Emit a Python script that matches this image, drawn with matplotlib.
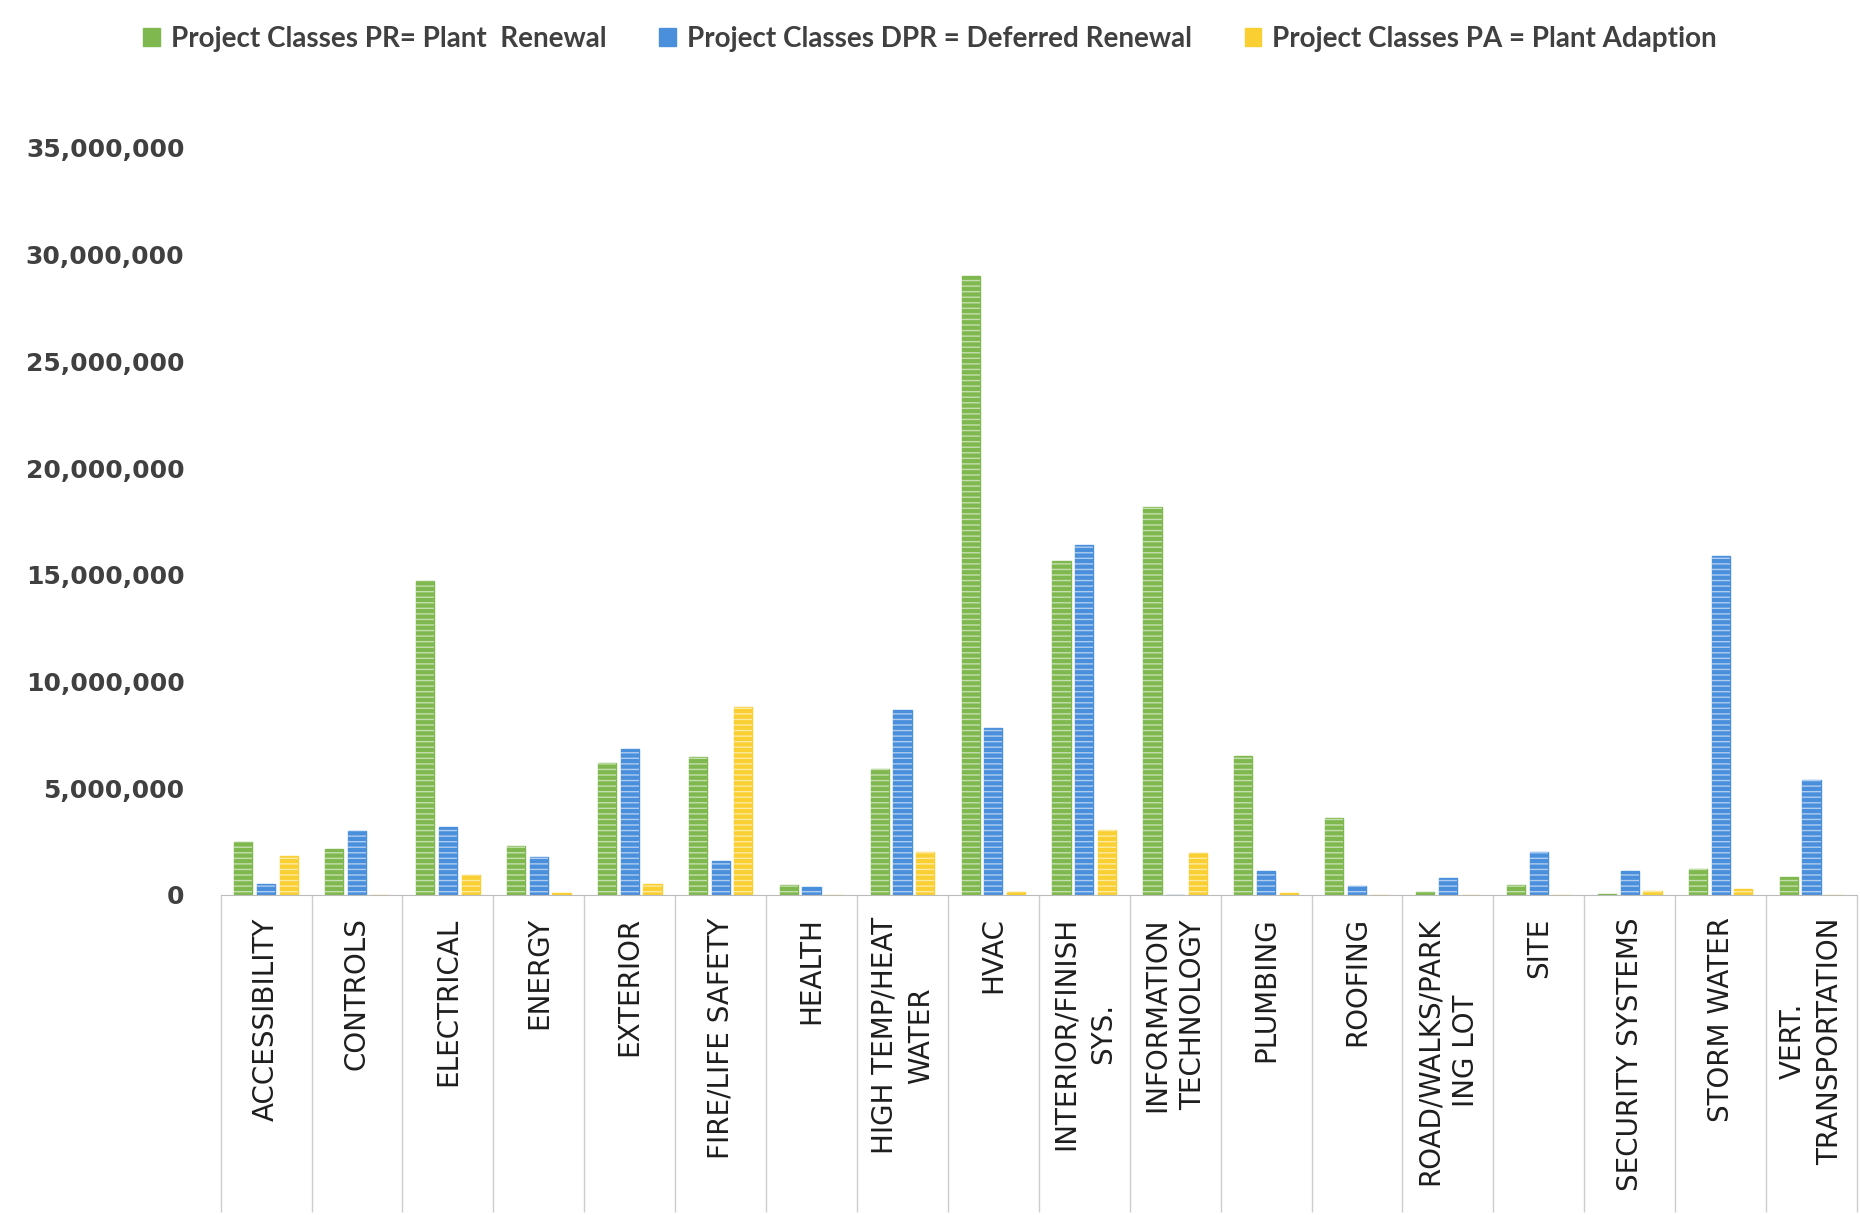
import matplotlib.pyplot as plt
import matplotlib.ticker as mticker
import numpy as np

# Data
categories = ["ACCESSIBILITY", "CONTROLS", "ELECTRICAL", "ENERGY", "EXTERIOR",
              "FIRE/LIFE SAFETY", "HEALTH", "HIGH TEMP/HEAT\nWATER", "HVAC",
              "INTERIOR/FINISH\nSYS.", "INFORMATION\nTECHNOLOGY", "PLUMBING",
              "ROOFING", "ROAD/WALKS/PARK\nING LOT", "SITE", "SECURITY SYSTEMS",
              "STORM WATER", "VERT.\nTRANSPORTATION"]

plant_renewal = [2.5e6, 2.17e6, 14.7e6, 2.28e6, 6.2e6, 6.45e6, 0.45e6, 5.9e6, 29.0e6,
                 15.67e6, 18.17e6, 6.5e6, 3.6e6, 0.12e6, 0.45e6, 0.05e6, 1.22e6, 0.83e6]
deferred_renewal = [0.5e6, 3.0e6, 3.2e6, 1.78e6, 6.85e6, 1.6e6, 0.35e6, 8.65e6, 7.8e6,
                    16.4e6, 0, 1.1e6, 0.4e6, 0.78e6, 2.0e6, 1.1e6, 15.9e6, 5.4e6]
plant_adaption = [1.83e6, 0, 0.95e6, 0.1e6, 0.5e6, 8.8e6, 0, 2.0e6, 0.15e6,
                  3.05e6, 1.95e6, 0.1e6, 0, 0, 0, 0.17e6, 0.28e6, 0]

series = [
    ("Project Classes PR= Plant  Renewal", plant_renewal, "#7fb84e"),
    ("Project Classes DPR = Deferred Renewal", deferred_renewal, "#4a8fdc"),
    ("Project Classes PA = Plant Adaption", plant_adaption, "#f9cf32"),
]

# Plot
fig = plt.figure(figsize=(18.6, 12.15), dpi=100)
ax = fig.add_axes([0.1186, 0.2634, 0.8798, 0.6148])

x = np.arange(len(categories))
width = 0.2
offsets = [-0.25, 0, 0.25]
handles = []
for (label, vals, color), off in zip(series, offsets):
    h = ax.bar(x + off, vals, width, color=color, edgecolor=color, linewidth=1, label=label)
    # scanned stripe texture
    ax.bar(x + off, vals, width, fill=False, edgecolor=(1, 1, 1, 0.55), hatch='---', linewidth=0)
    handles.append(h)

ax.set_xlim(-0.5, len(categories) - 0.5)
ax.set_ylim(0, 35e6)

# y axis
ax.yaxis.set_major_locator(mticker.MultipleLocator(5e6))
ax.yaxis.set_major_formatter(mticker.FuncFormatter(lambda v, p: f"{v:,.0f}"))
ax.tick_params(axis='y', length=0, pad=26, labelsize=18, labelcolor='#404040')
for t in ax.get_yticklabels():
    t.set_fontweight('bold')

# x axis with Excel-like category separators
ax.set_xticks(x)
ax.set_xticklabels(categories, rotation=90, fontsize=20, color='#1e1e1e', linespacing=1.4)
ax.tick_params(axis='x', which='major', length=0, pad=16)
ax.set_xticks(np.arange(-0.5, len(categories)), minor=True)
ax.tick_params(axis='x', which='minor', length=228, width=1, color='#cccccc')

for s in ['top', 'right', 'left']:
    ax.spines[s].set_visible(False)
ax.spines['bottom'].set_color('#bbbbbb')

fig.legend(handles=handles, loc='center', bbox_to_anchor=(0.5, 0.968), ncol=3,
           frameon=False, handlelength=0.6, handleheight=0.6, handletextpad=0.4,
           columnspacing=1.9, prop={'family': 'Lato', 'weight': 'bold', 'size': 20},
           labelcolor='#404040')

plt.savefig("out.png", dpi=100)
